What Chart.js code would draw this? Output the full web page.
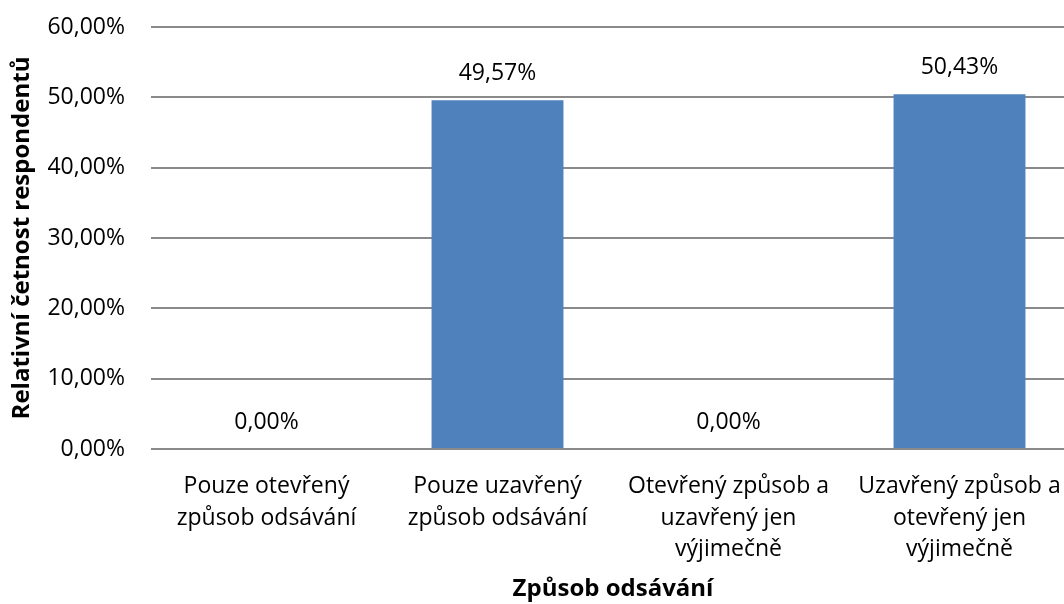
<!DOCTYPE html>
<html>
<head>
<meta charset="utf-8">
<script src="https://cdn.jsdelivr.net/npm/chart.js@4"></script>
<style>
  html, body { margin: 0; padding: 0; background: #fff; overflow: hidden; }
  canvas { display: block; }
</style>
</head>
<body>
<canvas id="chart" width="1075" height="604"></canvas>
<script>
// Categories (multi-line labels) and values in percent
const categories = [
  ["Pouze otevřený", "způsob odsávání"],
  ["Pouze uzavřený", "způsob odsávání"],
  ["Otevřený způsob a", "uzavřený jen", "výjimečně"],
  ["Uzavřený způsob a", "otevřený jen", "výjimečně"]
];
const values = [0, 49.57, 0, 50.43];
const yTicks = [0, 10, 20, 30, 40, 50, 60];

const fontFamily = "'Open Sans', 'DejaVu Sans', sans-serif";
const fmt = v => v.toFixed(2).replace(".", ",") + "%";

// Value labels above bars
const valueLabels = {
  id: "valueLabels",
  afterDatasetsDraw(chart) {
    const ctx = chart.ctx;
    const meta = chart.getDatasetMeta(0);
    ctx.save();
    ctx.font = "23px " + fontFamily;
    ctx.fillStyle = "#000";
    ctx.textAlign = "center";
    ctx.textBaseline = "middle";
    meta.data.forEach((bar, i) => {
      ctx.fillText(fmt(values[i]), bar.x, bar.y - 27);
    });
    ctx.restore();
  }
};

new Chart(document.getElementById("chart"), {
  type: "bar",
  data: {
    labels: categories,
    datasets: [{
      data: values,
      backgroundColor: "#4F81BD",
      barPercentage: 0.571,
      categoryPercentage: 1
    }]
  },
  options: {
    responsive: false,
    animation: false,
    layout: { padding: { top: 27, left: 0, right: 0, bottom: 0 } },
    plugins: { legend: { display: false }, tooltip: { enabled: false } },
    scales: {
      x: {
        // transparent tick marks give the label gap without extra side padding
        grid: { display: true, drawOnChartArea: false, color: "transparent", tickColor: "transparent", drawTicks: true, tickLength: 22 },
        border: { display: false },
        ticks: {
          color: "#000",
          font: { family: fontFamily, size: 23, lineHeight: 1.37 },
          padding: 0,
          maxRotation: 0,
          autoSkip: false
        },
        title: {
          display: true,
          text: "Způsob odsávání",
          color: "#000",
          font: { family: fontFamily, size: 24, weight: "bold" },
          padding: { top: 0, bottom: 0 }
        },
        afterFit(scale) { scale.height = 155; }
      },
      y: {
        min: 0,
        max: 60,
        afterBuildTicks(scale) { scale.ticks = yTicks.map(v => ({ value: v })); },
        grid: { color: "#8a8a8a", lineWidth: 2, tickColor: "transparent", drawTicks: true, tickLength: 26 },
        border: { display: false },
        ticks: {
          color: "#000",
          font: { family: fontFamily, size: 23 },
          padding: 0,
          callback: v => fmt(v)
        },
        title: {
          display: true,
          text: "Relativní četnost respondentů",
          color: "#000",
          font: { family: fontFamily, size: 24, weight: "bold" },
          padding: { top: 8, bottom: 0 }
        },
        afterFit(scale) { scale.width = 151; }
      }
    }
  },
  plugins: [valueLabels]
});
</script>
</body>
</html>
